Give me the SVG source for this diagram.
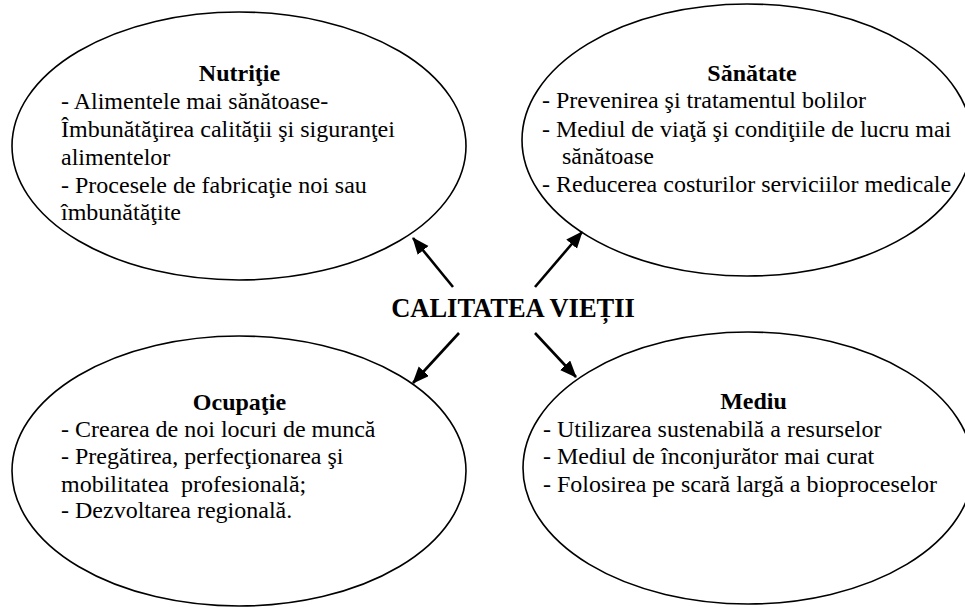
<svg xmlns="http://www.w3.org/2000/svg" width="965" height="607" viewBox="0 0 965 607">
<style>
  .ell { fill: #ffffff; stroke: #000000; stroke-width: 1.6; }
  text { font-family: 'Liberation Serif', Tinos, 'DejaVu Serif', serif; fill: #000; }
  .hd { font-weight: bold; font-size: 24px; text-anchor: middle; }
  .tx { font-size: 24px; white-space: pre; }
  .title { font-weight: bold; font-size: 26.5px; text-anchor: middle; }
  .arr { stroke: #000; stroke-width: 2.6; fill: none; marker-end: url(#ah); }
</style>
<defs>
  <marker id="ah" markerUnits="userSpaceOnUse" markerWidth="20" markerHeight="16" refX="16" refY="7" orient="auto">
    <path d="M0,0 L17,7 L0,14 z" fill="#000"/>
  </marker>
</defs>
<rect x="0" y="0" width="965" height="607" fill="#ffffff"/>

<g id="nutritie">
  <ellipse class="ell" cx="239" cy="146" rx="227" ry="134"/>
  <text class="hd" x="239.5" y="81" font-family="Liberation Serif, serif">Nutriţie</text>
  <text class="tx" x="61" y="109" font-family="Liberation Serif, serif">- Alimentele mai sănătoase-</text>
  <text class="tx" x="61" y="137" font-family="Liberation Serif, serif">Îmbunătăţirea calităţii şi siguranţei</text>
  <text class="tx" x="61" y="165" font-family="Liberation Serif, serif">alimentelor</text>
  <text class="tx" x="61" y="193" font-family="Liberation Serif, serif">- Procesele de fabricaţie noi sau</text>
  <text class="tx" x="61" y="220" font-family="Liberation Serif, serif">îmbunătăţite</text>
</g>

<g id="sanatate">
  <ellipse class="ell" cx="747" cy="140" rx="225" ry="136"/>
  <text class="hd" x="752" y="81" font-family="Liberation Serif, serif">Sănătate</text>
  <text class="tx" x="542" y="108" font-family="Liberation Serif, serif">- Prevenirea şi tratamentul bolilor</text>
  <text class="tx" x="542" y="137" font-family="Liberation Serif, serif">- Mediul de viaţă şi condiţiile de lucru mai</text>
  <text class="tx" x="562" y="164" font-family="Liberation Serif, serif">sănătoase</text>
  <text class="tx" x="542" y="192" font-family="Liberation Serif, serif">- Reducerea costurilor serviciilor medicale</text>
</g>

<g id="ocupatie">
  <ellipse class="ell" cx="239" cy="471" rx="227" ry="135"/>
  <text class="hd" x="239.5" y="410" font-family="Liberation Serif, serif">Ocupaţie</text>
  <text class="tx" x="61" y="437" font-family="Liberation Serif, serif">- Crearea de noi locuri de muncă</text>
  <text class="tx" x="61" y="464" font-family="Liberation Serif, serif">- Pregătirea, perfecţionarea şi</text>
  <text class="tx" x="61" y="492" font-family="Liberation Serif, serif">mobilitatea  profesională;</text>
  <text class="tx" x="61" y="518" font-family="Liberation Serif, serif">- Dezvoltarea regională.</text>
</g>

<g id="mediu">
  <ellipse class="ell" cx="748" cy="468" rx="225" ry="136"/>
  <text class="hd" x="753.5" y="409" font-family="Liberation Serif, serif">Mediu</text>
  <text class="tx" x="543" y="437" font-family="Liberation Serif, serif">- Utilizarea sustenabilă a resurselor</text>
  <text class="tx" x="543" y="464" font-family="Liberation Serif, serif">- Mediul de înconjurător mai curat</text>
  <text class="tx" x="543" y="492" font-family="Liberation Serif, serif">- Folosirea pe scară largă a bioproceselor</text>
</g>

<g id="calitatea">
  <text class="title" x="513" y="317" font-family="Liberation Serif, serif">CALITATEA VIEȚII</text>
</g>

<g id="connectors">
  <line class="arr" x1="453" y1="287" x2="413" y2="238"/>
  <line class="arr" x1="535" y1="287" x2="582" y2="232"/>
  <line class="arr" x1="459" y1="333" x2="413" y2="383"/>
  <line class="arr" x1="535" y1="333" x2="576" y2="377"/>
</g>
</svg>
